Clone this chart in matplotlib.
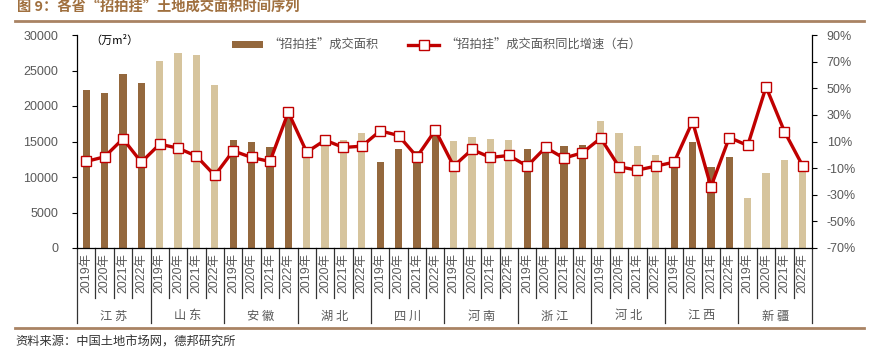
import numpy as np
import matplotlib
matplotlib.use('Agg')
import matplotlib.pyplot as plt
from matplotlib.patches import Patch
from matplotlib.lines import Line2D
import matplotlib.transforms as mtransforms

plt.rcParams['font.family'] = ['Liberation Sans', 'Noto Sans CJK SC', 'DejaVu Sans']
CJK = ['Noto Sans CJK SC', 'DejaVu Sans']

provinces = ['江苏', '山东', '安徽', '湖北', '四川', '河南', '浙江', '河北', '江西', '新疆']
years = ['2019年', '2020年', '2021年', '2022年']

# 成交面积（万m²），按省份、年份排列
area = [
    22300, 21900, 24500, 23200,   # 江苏
    26300, 27500, 27200, 22900,   # 山东
    15200, 14900, 14200, 18700,   # 安徽
    13600, 14700, 15200, 16200,   # 湖北
    12100, 13900, 13600, 16100,   # 四川
    15100, 15600, 15300, 15200,   # 河南
    14000, 14200, 14300, 14500,   # 浙江
    17900, 16200, 14300, 13100,   # 河北
    12700, 14900, 11400, 12800,   # 江西
    7000, 10600, 12400, 11000,    # 新疆
]

# 同比增速（%）
growth = [
    -5.0, -1.5, 12.0, -5.5,
    8.0, 5.0, -1.0, -15.5,
    3.0, -2.0, -5.0, 32.0,
    2.0, 11.0, 5.5, 6.5,
    18.0, 14.5, -1.5, 18.5,
    -8.5, 4.0, -2.0, -0.5,
    -8.5, 5.5, -2.5, 1.5,
    12.5, -9.0, -11.5, -8.5,
    -5.5, 25.0, -24.0, 13.0,
    7.0, 51.0, 17.5, -8.5,
]

BROWN = '#94683D'
TAN = '#D6C49D'
RED = '#C00000'
GREY = '#595959'
RULE = '#A98363'

n_years = len(years)
x = np.arange(len(area))
colors = [BROWN if (i // n_years) % 2 == 0 else TAN for i in x]

fig = plt.figure(figsize=(8.79, 3.49), dpi=100)
ax = fig.add_axes([77 / 879, 1 - 248 / 349, 735 / 879, 213 / 349])
ax2 = ax.twinx()

ax.bar(x, area, width=0.4, color=colors, zorder=2)
ax.set_xlim(-0.5, len(area) - 0.5)
ax.set_ylim(0, 30000)
ax.set_yticks(np.arange(0, 30001, 5000))
ax.set_xticks([])

ax2.plot(x, growth, color=RED, lw=2.4, marker='s', ms=6.5, mfc='white',
         mec=RED, mew=1.0, zorder=3)
ax2.set_ylim(-70, 90)
ax2.set_yticks(np.arange(-70, 91, 20))
ax2.set_yticklabels([f'{v}%' for v in range(-70, 91, 20)])

for a in (ax, ax2):
    a.spines['top'].set_visible(False)
    a.tick_params(axis='y', direction='out', length=3.5, width=0.8,
                  colors='black', labelcolor=GREY, labelsize=9)
    for s in a.spines.values():
        s.set_linewidth(0.9)
ax2.spines['left'].set_visible(False)
ax.spines['right'].set_visible(False)
ax2.spines['bottom'].set_visible(False)
ax.tick_params(axis='y', pad=10)
ax2.tick_params(axis='y', pad=7)

# 横轴下方的年份/省份分类表
trans = mtransforms.blended_transform_factory(ax.transData, ax.transAxes)
year_bottom = -50 / 213
group_bottom = -75 / 213
for b in np.arange(-0.5, len(area), 1.0):
    idx = int(b + 0.5)
    bottom = group_bottom if idx % n_years == 0 else year_bottom
    ax.plot([b, b], [0, bottom], color='#333333', lw=0.9, transform=trans,
            clip_on=False)
for i, xi in enumerate(x):
    ax.text(xi, -25 / 213, years[i % n_years], rotation=90, ha='center',
            va='center', fontsize=8.9, color=GREY, transform=trans)
for g, name in enumerate(provinces):
    xc = g * n_years + (n_years - 1) / 2
    ax.text(xc, -68 / 213, ' '.join(name), ha='center', va='center',
            fontsize=8.8, color=GREY, transform=trans, family=CJK)

ax.text(0.018, 0.975, '（万m²）', transform=ax.transAxes, fontsize=8,
        ha='left', va='center', color='black', family=CJK)

handles = [Patch(facecolor=BROWN, edgecolor='none'),
           Line2D([0], [0], color=RED, lw=2.4, marker='s', ms=6.5,
                  mfc='white', mec=RED, mew=1.0)]
labels = ['“招拍挂”成交面积', '“招拍挂”成交面积同比增速（右）']
leg = ax2.legend(handles, labels, ncol=2, loc='center left',
                 bbox_to_anchor=(0.211, 0.953), frameon=False,
                 prop={'family': CJK, 'size': 8.8}, handlelength=2.5,
                 handleheight=0.5, handletextpad=0.5, columnspacing=2.4,
                 borderpad=0, borderaxespad=0)
for t in leg.get_texts():
    t.set_color(GREY)

# 标题、分隔线与资料来源
fig.text(17 / 879, 1 - 8 / 349, '图 9：各省“招拍挂”土地成交面积时间序列',
         fontsize=10.3, fontweight='bold', color='#A0703F', ha='left',
         va='center', family=CJK)
fig.add_artist(Line2D([15 / 879, 864 / 879], [1 - 21 / 349, 1 - 21 / 349],
                      color=RULE, lw=2))
fig.add_artist(Line2D([15 / 879, 864 / 879], [1 - 328 / 349, 1 - 328 / 349],
                      color=RULE, lw=2))
fig.text(15 / 879, 1 - 342 / 349, '资料来源：中国土地市场网，德邦研究所',
         fontsize=8.8, color='#333333', ha='left', va='center', family=CJK)

fig.savefig('out.png', dpi=100)
